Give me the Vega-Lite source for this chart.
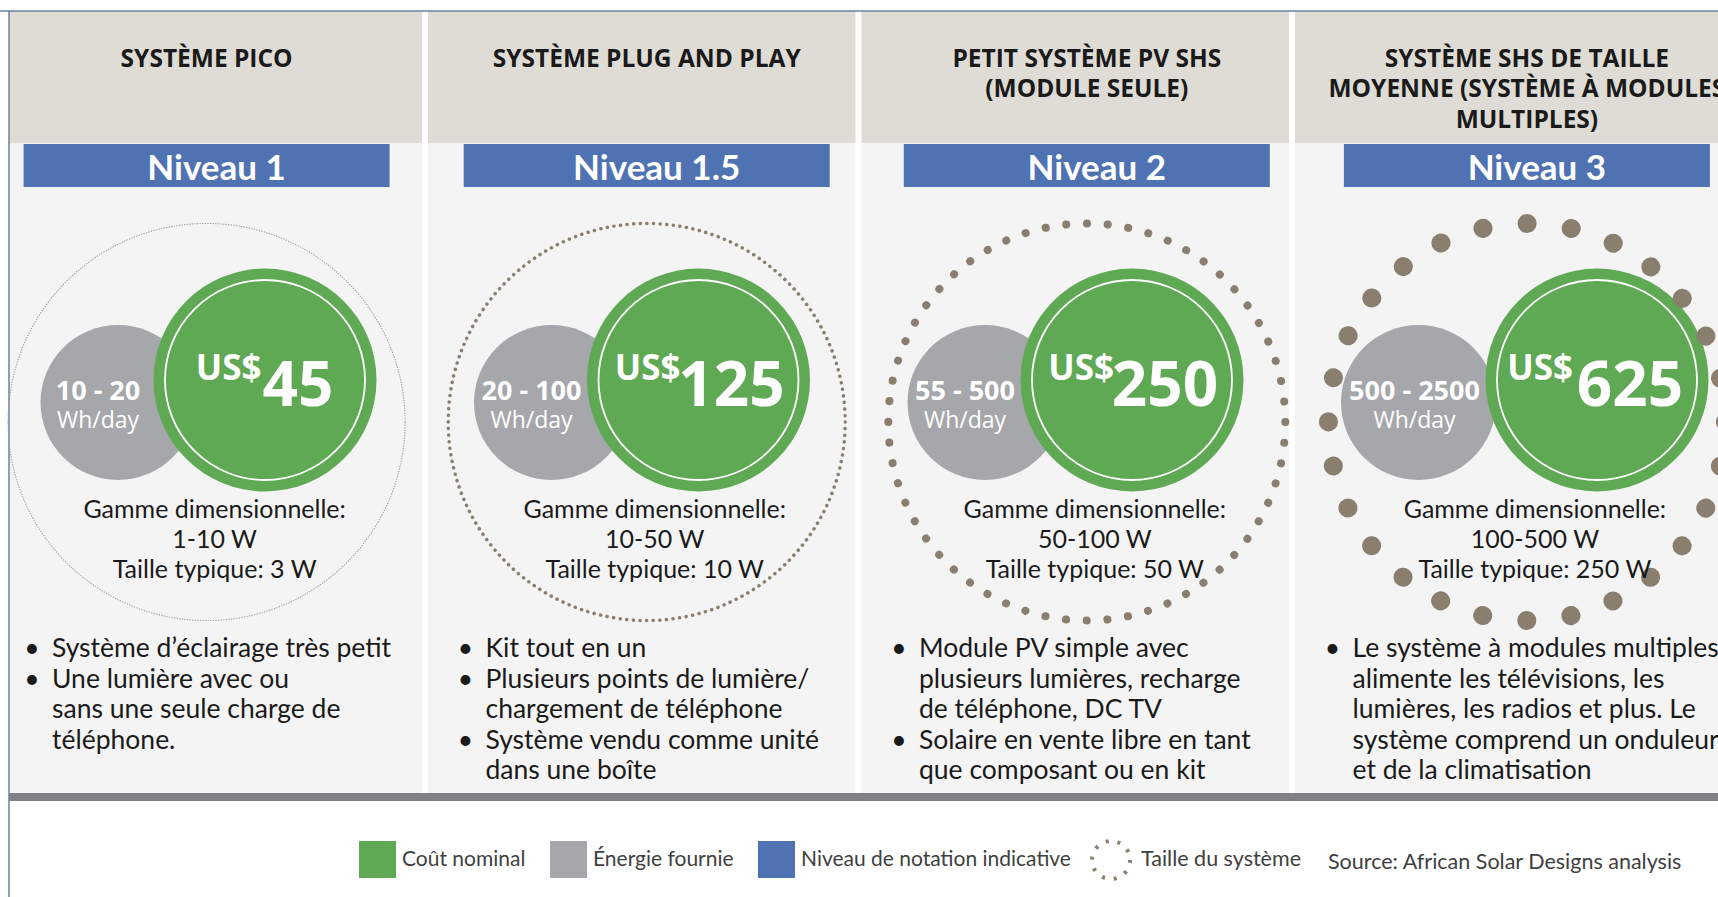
{
  "$schema": "https://vega.github.io/schema/vega-lite/v6.json",
  "width": 1718,
  "height": 897,
  "autosize": {"type": "none"},
  "padding": 0,
  "background": "white",
  "config": {"view": {"stroke": null}},
  "data": {
    "values": [
      {"panel": 1, "system": "SYSTÈME PICO", "tier": "Niveau 1", "energy": "10 - 20", "unit": "Wh/day", "currency": "US$", "cost": 45,
       "sizing": "Gamme dimensionnelle:\n1-10 W\nTaille typique: 3 W",
       "features": "Système d’éclairage très petit\nUne lumière avec ou\nsans une seule charge de\ntéléphone.",
       "bullets": "•\n•"},
      {"panel": 2, "system": "SYSTÈME PLUG AND PLAY", "tier": "Niveau 1.5", "energy": "20 - 100", "unit": "Wh/day", "currency": "US$", "cost": 125,
       "sizing": "Gamme dimensionnelle:\n10-50 W\nTaille typique: 10 W",
       "features": "Kit tout en un\nPlusieurs points de lumière/\nchargement de téléphone\nSystème vendu comme unité\ndans une boîte",
       "bullets": "•\n•\n\u2800\n•"},
      {"panel": 3, "system": "PETIT SYSTÈME PV SHS\n(MODULE SEULE)", "tier": "Niveau 2", "energy": "55 - 500", "unit": "Wh/day", "currency": "US$", "cost": 250,
       "sizing": "Gamme dimensionnelle:\n50-100 W\nTaille typique: 50 W",
       "features": "Module PV simple avec\nplusieurs lumières, recharge\nde téléphone, DC TV\nSolaire en vente libre en tant\nque composant ou en kit",
       "bullets": "•\n\u2800\n\u2800\n•"},
      {"panel": 4, "system": "SYSTÈME SHS DE TAILLE\nMOYENNE (SYSTÈME À MODULES\nMULTIPLES)", "tier": "Niveau 3", "energy": "500 - 2500", "unit": "Wh/day", "currency": "US$", "cost": 625,
       "sizing": "Gamme dimensionnelle:\n100-500 W\nTaille typique: 250 W",
       "features": "Le système à modules multiples\nalimente les télévisions, les\nlumières, les radios et plus. Le\nsystème comprend un onduleur\net de la climatisation",
       "bullets": "•"}
    ]
  },
  "layer": [
    {
      "layer": [
        {
          "transform": [{"filter": "datum.panel == 1"}],
          "mark": {"type": "point", "filled": false, "size": 1, "opacity": 1, "strokeWidth": 4, "strokeDash": [3, 8.94]},
          "encoding": {
            "x": {"field": "panel", "type": "quantitative", "scale": {"domain": [0.520185, 4.483276], "zero": false, "nice": false}, "axis": null},
            "y": {"datum": 400, "type": "quantitative", "scale": {"domain": [0, 897], "reverse": true, "zero": false, "nice": false}, "axis": null},
            "stroke": {"datum": "Taille du système", "type": "nominal",
              "scale": {"domain": ["Taille du système"], "range": ["#8a7f6f"]},
              "legend": {"orient": "none", "legendX": 1090, "legendY": 839, "direction": "horizontal", "padding": 0,
                "title": "Source: African Solar Designs analysis", "titleOrient": "right", "titleAnchor": "middle", "titleBaseline": "middle",
                "titlePadding": 27, "titleFont": "Lato", "titleFontWeight": "normal", "titleFontSize": 21.5, "titleColor": "#404040", "titleLimit": 600,
                "symbolType": "circle", "symbolSize": 1444, "symbolStrokeWidth": 4, "symbolDash": [3, 8.94], "symbolFillColor": "transparent", "symbolOpacity": 1,
                "labelFont": "Lato", "labelFontSize": 21.5, "labelColor": "#404040", "labelOffset": 9, "labelLimit": 400}}
          }
        },
        {
          "mark": {"type": "rect", "xOffset": -213.5, "x2Offset": 214, "fill": "#dfdcd6"},
          "encoding": {
            "x": {"field": "panel", "type": "quantitative", "scale": {"domain": [0.520185, 4.483276], "zero": false, "nice": false}, "axis": null},
            "x2": {"field": "panel"},
            "y": {"datum": 11, "type": "quantitative", "scale": {"domain": [0, 897], "reverse": true, "zero": false, "nice": false}, "axis": null},
            "y2": {"datum": 143}
          }
        },
        {
          "mark": {"type": "rect", "xOffset": -213.5, "x2Offset": 214, "fill": "#f4f4f4"},
          "encoding": {
            "x": {"field": "panel", "type": "quantitative", "scale": {"domain": [0.520185, 4.483276], "zero": false, "nice": false}, "axis": null},
            "x2": {"field": "panel"},
            "y": {"datum": 143, "type": "quantitative", "scale": {"domain": [0, 897], "reverse": true, "zero": false, "nice": false}, "axis": null},
            "y2": {"datum": 793}
          }
        },
        {
          "mark": {"type": "rect", "xOffset": -214, "x2Offset": 220, "fill": "#7f8083"},
          "encoding": {
            "x": {"field": "panel", "type": "quantitative", "scale": {"domain": [0.520185, 4.483276], "zero": false, "nice": false}, "axis": null},
            "x2": {"field": "panel"},
            "y": {"datum": 793, "type": "quantitative", "scale": {"domain": [0, 897], "reverse": true, "zero": false, "nice": false}, "axis": null},
            "y2": {"datum": 801}
          }
        },
        {
          "transform": [{"filter": "datum.panel == 1"}],
          "mark": {"type": "rect", "xOffset": -218, "x2Offset": -199, "fill": "white"},
          "encoding": {
            "x": {"field": "panel", "type": "quantitative", "scale": {"domain": [0.520185, 4.483276], "zero": false, "nice": false}, "axis": null},
            "x2": {"field": "panel"},
            "y": {"datum": 0, "type": "quantitative", "scale": {"domain": [0, 897], "reverse": true, "zero": false, "nice": false}, "axis": null},
            "y2": {"datum": 897}
          }
        },
        {
          "transform": [{"filter": "datum.panel == 1"}],
          "mark": {"type": "rule", "xOffset": -199, "stroke": "#6b7fa3", "strokeWidth": 1.5},
          "encoding": {
            "x": {"field": "panel", "type": "quantitative", "scale": {"domain": [0.520185, 4.483276], "zero": false, "nice": false}, "axis": null},
            "y": {"datum": 11, "type": "quantitative", "scale": {"domain": [0, 897], "reverse": true, "zero": false, "nice": false}, "axis": null},
            "y2": {"datum": 897}
          }
        },
        {
          "transform": [{"filter": "datum.panel == 1"}],
          "mark": {"type": "rule", "stroke": "#6b7fa3", "strokeWidth": 1.5},
          "encoding": {
            "y": {"datum": 11, "type": "quantitative", "scale": {"domain": [0, 897], "reverse": true, "zero": false, "nice": false}, "axis": null}
          }
        }
      ]
    },
    {
      "layer": [
        {
          "mark": {"type": "rect", "xOffset": -183, "x2Offset": 183},
          "encoding": {
            "x": {"field": "panel", "type": "quantitative", "scale": {"domain": [0.530561, 4.434219], "zero": false, "nice": false}, "axis": null},
            "x2": {"field": "panel"},
            "y": {"datum": 144, "type": "quantitative", "scale": {"domain": [0, 897], "reverse": true, "zero": false, "nice": false}, "axis": null},
            "y2": {"datum": 187},
            "fill": {"datum": "Niveau de notation indicative", "type": "nominal",
              "scale": {"domain": ["Coût nominal", "Énergie fournie", "Niveau de notation indicative"], "range": ["#5fa955", "#a6a7ab", "#4f72b2"]},
              "legend": {"orient": "none", "legendX": 359, "legendY": 841, "direction": "horizontal", "padding": 0, "title": null,
                "symbolType": "square", "symbolSize": 1369, "symbolStrokeWidth": 0, "symbolOpacity": 1,
                "labelFont": "Lato", "labelFontSize": 21, "labelColor": "#404040", "labelOffset": 6, "columnPadding": 24, "labelLimit": 400}}
          }
        },
        {
          "mark": {"type": "text", "xOffset": 10, "font": "Lato", "fontWeight": "bold", "fontSize": 35, "fill": "white", "align": "center", "baseline": "alphabetic"},
          "encoding": {
            "x": {"field": "panel", "type": "quantitative", "scale": {"domain": [0.530561, 4.434219], "zero": false, "nice": false}, "axis": null},
            "y": {"datum": 180, "type": "quantitative", "scale": {"domain": [0, 897], "reverse": true, "zero": false, "nice": false}, "axis": null},
            "text": {"field": "tier", "type": "nominal"}
          }
        },
        {
          "mark": {"type": "text", "font": "Open Sans", "fontWeight": "bold", "fontSize": 24.5, "fill": "#1a1a1a", "align": "center", "baseline": "alphabetic", "lineBreak": "\n", "lineHeight": 30.3},
          "encoding": {
            "x": {"field": "panel", "type": "quantitative", "scale": {"domain": [0.530561, 4.434219], "zero": false, "nice": false}, "axis": null},
            "y": {"datum": 67, "type": "quantitative", "scale": {"domain": [0, 897], "reverse": true, "zero": false, "nice": false}, "axis": null},
            "text": {"field": "system", "type": "nominal"}
          }
        }
      ]
    },
    {
      "layer": [
        {
          "mark": {"type": "point", "filled": true, "size": 24025, "opacity": 1, "strokeWidth": 0, "xOffset": -90},
          "encoding": {
            "x": {"field": "panel", "type": "quantitative", "scale": {"domain": [0.520185, 4.483276], "zero": false, "nice": false}, "axis": null},
            "y": {"datum": 402.5, "type": "quantitative", "scale": {"domain": [0, 897], "reverse": true, "zero": false, "nice": false}, "axis": null},
            "fill": {"datum": "Énergie fournie", "type": "nominal",
              "scale": {"domain": ["Coût nominal", "Énergie fournie", "Niveau de notation indicative"], "range": ["#5fa955", "#a6a7ab", "#4f72b2"]},
              "legend": {"orient": "none", "legendX": 359, "legendY": 841, "direction": "horizontal", "padding": 0, "title": null,
                "symbolType": "square", "symbolSize": 1369, "symbolStrokeWidth": 0, "symbolOpacity": 1,
                "labelFont": "Lato", "labelFontSize": 21, "labelColor": "#404040", "labelOffset": 6, "columnPadding": 24, "labelLimit": 400}}
          }
        },
        {
          "transform": [{"filter": "datum.panel < 4"}],
          "mark": {"type": "point", "filled": true, "size": 49729, "opacity": 1, "strokeWidth": 0, "xOffset": 57},
          "encoding": {
            "x": {"field": "panel", "type": "quantitative", "scale": {"domain": [0.520185, 4.483276], "zero": false, "nice": false}, "axis": null},
            "y": {"datum": 380, "type": "quantitative", "scale": {"domain": [0, 897], "reverse": true, "zero": false, "nice": false}, "axis": null},
            "fill": {"datum": "Coût nominal", "type": "nominal",
              "scale": {"domain": ["Coût nominal", "Énergie fournie", "Niveau de notation indicative"], "range": ["#5fa955", "#a6a7ab", "#4f72b2"]},
              "legend": {"orient": "none", "legendX": 359, "legendY": 841, "direction": "horizontal", "padding": 0, "title": null,
                "symbolType": "square", "symbolSize": 1369, "symbolStrokeWidth": 0, "symbolOpacity": 1,
                "labelFont": "Lato", "labelFontSize": 21, "labelColor": "#404040", "labelOffset": 6, "columnPadding": 24, "labelLimit": 400}}
          }
        },
        {
          "transform": [{"filter": "datum.panel == 4"}],
          "mark": {"type": "point", "filled": true, "size": 49729, "opacity": 1, "strokeWidth": 0, "xOffset": 88.5},
          "encoding": {
            "x": {"field": "panel", "type": "quantitative", "scale": {"domain": [0.520185, 4.483276], "zero": false, "nice": false}, "axis": null},
            "y": {"datum": 380, "type": "quantitative", "scale": {"domain": [0, 897], "reverse": true, "zero": false, "nice": false}, "axis": null},
            "fill": {"datum": "Coût nominal", "type": "nominal",
              "scale": {"domain": ["Coût nominal", "Énergie fournie", "Niveau de notation indicative"], "range": ["#5fa955", "#a6a7ab", "#4f72b2"]},
              "legend": {"orient": "none", "legendX": 359, "legendY": 841, "direction": "horizontal", "padding": 0, "title": null,
                "symbolType": "square", "symbolSize": 1369, "symbolStrokeWidth": 0, "symbolOpacity": 1,
                "labelFont": "Lato", "labelFontSize": 21, "labelColor": "#404040", "labelOffset": 6, "columnPadding": 24, "labelLimit": 400}}
          }
        },
        {
          "transform": [{"filter": "datum.panel < 4"}],
          "mark": {"type": "point", "filled": false, "size": 40000, "opacity": 1, "stroke": "white", "strokeWidth": 1.8, "xOffset": 57},
          "encoding": {
            "x": {"field": "panel", "type": "quantitative", "scale": {"domain": [0.520185, 4.483276], "zero": false, "nice": false}, "axis": null},
            "y": {"datum": 380, "type": "quantitative", "scale": {"domain": [0, 897], "reverse": true, "zero": false, "nice": false}, "axis": null}
          }
        },
        {
          "transform": [{"filter": "datum.panel == 4"}],
          "mark": {"type": "point", "filled": false, "size": 40000, "opacity": 1, "stroke": "white", "strokeWidth": 1.8, "xOffset": 88.5},
          "encoding": {
            "x": {"field": "panel", "type": "quantitative", "scale": {"domain": [0.520185, 4.483276], "zero": false, "nice": false}, "axis": null},
            "y": {"datum": 380, "type": "quantitative", "scale": {"domain": [0, 897], "reverse": true, "zero": false, "nice": false}, "axis": null}
          }
        },
        {
          "transform": [{"filter": "datum.panel < 4"}],
          "mark": {"type": "text", "xOffset": -110, "font": "Open Sans", "fontWeight": "bold", "fontSize": 27, "fill": "white", "align": "center", "baseline": "alphabetic"},
          "encoding": {
            "x": {"field": "panel", "type": "quantitative", "scale": {"domain": [0.520185, 4.483276], "zero": false, "nice": false}, "axis": null},
            "y": {"datum": 400, "type": "quantitative", "scale": {"domain": [0, 897], "reverse": true, "zero": false, "nice": false}, "axis": null},
            "text": {"field": "energy", "type": "nominal"}
          }
        },
        {
          "transform": [{"filter": "datum.panel == 4"}],
          "mark": {"type": "text", "xOffset": -94, "font": "Open Sans", "fontWeight": "bold", "fontSize": 27, "fill": "white", "align": "center", "baseline": "alphabetic"},
          "encoding": {
            "x": {"field": "panel", "type": "quantitative", "scale": {"domain": [0.520185, 4.483276], "zero": false, "nice": false}, "axis": null},
            "y": {"datum": 400, "type": "quantitative", "scale": {"domain": [0, 897], "reverse": true, "zero": false, "nice": false}, "axis": null},
            "text": {"field": "energy", "type": "nominal"}
          }
        },
        {
          "transform": [{"filter": "datum.panel < 4"}],
          "mark": {"type": "text", "xOffset": -110, "font": "Open Sans", "fontSize": 23, "fill": "white", "align": "center", "baseline": "alphabetic"},
          "encoding": {
            "x": {"field": "panel", "type": "quantitative", "scale": {"domain": [0.520185, 4.483276], "zero": false, "nice": false}, "axis": null},
            "y": {"datum": 428, "type": "quantitative", "scale": {"domain": [0, 897], "reverse": true, "zero": false, "nice": false}, "axis": null},
            "text": {"field": "unit", "type": "nominal"}
          }
        },
        {
          "transform": [{"filter": "datum.panel == 4"}],
          "mark": {"type": "text", "xOffset": -94, "font": "Open Sans", "fontSize": 23, "fill": "white", "align": "center", "baseline": "alphabetic"},
          "encoding": {
            "x": {"field": "panel", "type": "quantitative", "scale": {"domain": [0.520185, 4.483276], "zero": false, "nice": false}, "axis": null},
            "y": {"datum": 428, "type": "quantitative", "scale": {"domain": [0, 897], "reverse": true, "zero": false, "nice": false}, "axis": null},
            "text": {"field": "unit", "type": "nominal"}
          }
        },
        {
          "transform": [{"filter": "datum.panel == 1"}],
          "mark": {"type": "text", "xOffset": 53.5, "font": "Open Sans", "fontWeight": "bold", "fontSize": 35, "fill": "white", "align": "right", "baseline": "alphabetic"},
          "encoding": {
            "x": {"field": "panel", "type": "quantitative", "scale": {"domain": [0.520185, 4.483276], "zero": false, "nice": false}, "axis": null},
            "y": {"datum": 380, "type": "quantitative", "scale": {"domain": [0, 897], "reverse": true, "zero": false, "nice": false}, "axis": null},
            "text": {"field": "currency", "type": "nominal"}
          }
        },
        {
          "transform": [{"filter": "datum.panel == 2 || datum.panel == 3"}],
          "mark": {"type": "text", "xOffset": 39, "font": "Open Sans", "fontWeight": "bold", "fontSize": 35, "fill": "white", "align": "right", "baseline": "alphabetic"},
          "encoding": {
            "x": {"field": "panel", "type": "quantitative", "scale": {"domain": [0.520185, 4.483276], "zero": false, "nice": false}, "axis": null},
            "y": {"datum": 380, "type": "quantitative", "scale": {"domain": [0, 897], "reverse": true, "zero": false, "nice": false}, "axis": null},
            "text": {"field": "currency", "type": "nominal"}
          }
        },
        {
          "transform": [{"filter": "datum.panel == 4"}],
          "mark": {"type": "text", "xOffset": 64.5, "font": "Open Sans", "fontWeight": "bold", "fontSize": 35, "fill": "white", "align": "right", "baseline": "alphabetic"},
          "encoding": {
            "x": {"field": "panel", "type": "quantitative", "scale": {"domain": [0.520185, 4.483276], "zero": false, "nice": false}, "axis": null},
            "y": {"datum": 380, "type": "quantitative", "scale": {"domain": [0, 897], "reverse": true, "zero": false, "nice": false}, "axis": null},
            "text": {"field": "currency", "type": "nominal"}
          }
        },
        {
          "transform": [{"filter": "datum.panel < 4"}],
          "mark": {"type": "text", "xOffset": 90, "font": "Open Sans", "fontWeight": "bold", "fontSize": 62, "fill": "white", "align": "center", "baseline": "alphabetic"},
          "encoding": {
            "x": {"field": "panel", "type": "quantitative", "scale": {"domain": [0.520185, 4.483276], "zero": false, "nice": false}, "axis": null},
            "y": {"datum": 406, "type": "quantitative", "scale": {"domain": [0, 897], "reverse": true, "zero": false, "nice": false}, "axis": null},
            "text": {"field": "cost", "type": "quantitative", "format": "d"}
          }
        },
        {
          "transform": [{"filter": "datum.panel == 4"}],
          "mark": {"type": "text", "xOffset": 121.5, "font": "Open Sans", "fontWeight": "bold", "fontSize": 62, "fill": "white", "align": "center", "baseline": "alphabetic"},
          "encoding": {
            "x": {"field": "panel", "type": "quantitative", "scale": {"domain": [0.520185, 4.483276], "zero": false, "nice": false}, "axis": null},
            "y": {"datum": 406, "type": "quantitative", "scale": {"domain": [0, 897], "reverse": true, "zero": false, "nice": false}, "axis": null},
            "text": {"field": "cost", "type": "quantitative", "format": "d"}
          }
        },
        {
          "mark": {"type": "text", "xOffset": -156, "font": "Lato", "fontSize": 26.5, "fill": "#1a1a1a", "align": "left", "baseline": "alphabetic", "lineBreak": "\n", "lineHeight": 30.6},
          "encoding": {
            "x": {"field": "panel", "type": "quantitative", "scale": {"domain": [0.520185, 4.483276], "zero": false, "nice": false}, "axis": null},
            "y": {"datum": 657, "type": "quantitative", "scale": {"domain": [0, 897], "reverse": true, "zero": false, "nice": false}, "axis": null},
            "text": {"field": "features", "type": "nominal"}
          }
        },
        {
          "mark": {"type": "text", "xOffset": -176, "font": "Lato", "fontSize": 26.5, "fill": "#1a1a1a", "align": "center", "baseline": "alphabetic", "lineBreak": "\n", "lineHeight": 30.6},
          "encoding": {
            "x": {"field": "panel", "type": "quantitative", "scale": {"domain": [0.520185, 4.483276], "zero": false, "nice": false}, "axis": null},
            "y": {"datum": 657, "type": "quantitative", "scale": {"domain": [0, 897], "reverse": true, "zero": false, "nice": false}, "axis": null},
            "text": {"field": "bullets", "type": "nominal"}
          }
        }
      ]
    },
    {
      "layer": [
        {
          "transform": [{"filter": "datum.panel == 1"}],
          "mark": {"type": "point", "filled": false, "size": 157609, "opacity": 1, "stroke": "#a39d93", "strokeWidth": 1.1, "strokeDash": [1.3, 1.3]},
          "encoding": {
            "x": {"field": "panel", "type": "quantitative", "scale": {"domain": [0.530561, 4.434219], "zero": false, "nice": false}, "axis": null},
            "y": {"datum": 422, "type": "quantitative", "scale": {"domain": [0, 897], "reverse": true, "zero": false, "nice": false}, "axis": null}
          }
        },
        {
          "transform": [{"filter": "datum.panel == 2"}],
          "mark": {"type": "point", "filled": false, "size": 157609, "opacity": 1, "stroke": "#8a7f6f", "strokeWidth": 3.5, "strokeCap": "round", "strokeDash": [0.1, 6.534]},
          "encoding": {
            "x": {"field": "panel", "type": "quantitative", "scale": {"domain": [0.530561, 4.434219], "zero": false, "nice": false}, "axis": null},
            "y": {"datum": 422, "type": "quantitative", "scale": {"domain": [0, 897], "reverse": true, "zero": false, "nice": false}, "axis": null}
          }
        },
        {
          "transform": [{"filter": "datum.panel == 3"}],
          "mark": {"type": "point", "filled": false, "size": 157609, "opacity": 1, "stroke": "#8a7f6f", "strokeWidth": 8, "strokeCap": "round", "strokeDash": [0.1, 20.686]},
          "encoding": {
            "x": {"field": "panel", "type": "quantitative", "scale": {"domain": [0.530561, 4.434219], "zero": false, "nice": false}, "axis": null},
            "y": {"datum": 422, "type": "quantitative", "scale": {"domain": [0, 897], "reverse": true, "zero": false, "nice": false}, "axis": null}
          }
        },
        {
          "transform": [{"filter": "datum.panel == 4"}],
          "mark": {"type": "point", "filled": false, "size": 157609, "opacity": 1, "stroke": "#8a7f6f", "strokeWidth": 19, "strokeCap": "round", "strokeDash": [0.1, 44.443]},
          "encoding": {
            "x": {"field": "panel", "type": "quantitative", "scale": {"domain": [0.530561, 4.434219], "zero": false, "nice": false}, "axis": null},
            "y": {"datum": 422, "type": "quantitative", "scale": {"domain": [0, 897], "reverse": true, "zero": false, "nice": false}, "axis": null}
          }
        },
        {
          "mark": {"type": "text", "xOffset": 8, "font": "Lato", "fontSize": 25, "fill": "#1a1a1a", "align": "center", "baseline": "alphabetic", "lineBreak": "\n", "lineHeight": 30},
          "encoding": {
            "x": {"field": "panel", "type": "quantitative", "scale": {"domain": [0.530561, 4.434219], "zero": false, "nice": false}, "axis": null},
            "y": {"datum": 518, "type": "quantitative", "scale": {"domain": [0, 897], "reverse": true, "zero": false, "nice": false}, "axis": null},
            "text": {"field": "sizing", "type": "nominal"}
          }
        }
      ]
    }
  ],
  "resolve": {"scale": {"x": "independent"}}
}
